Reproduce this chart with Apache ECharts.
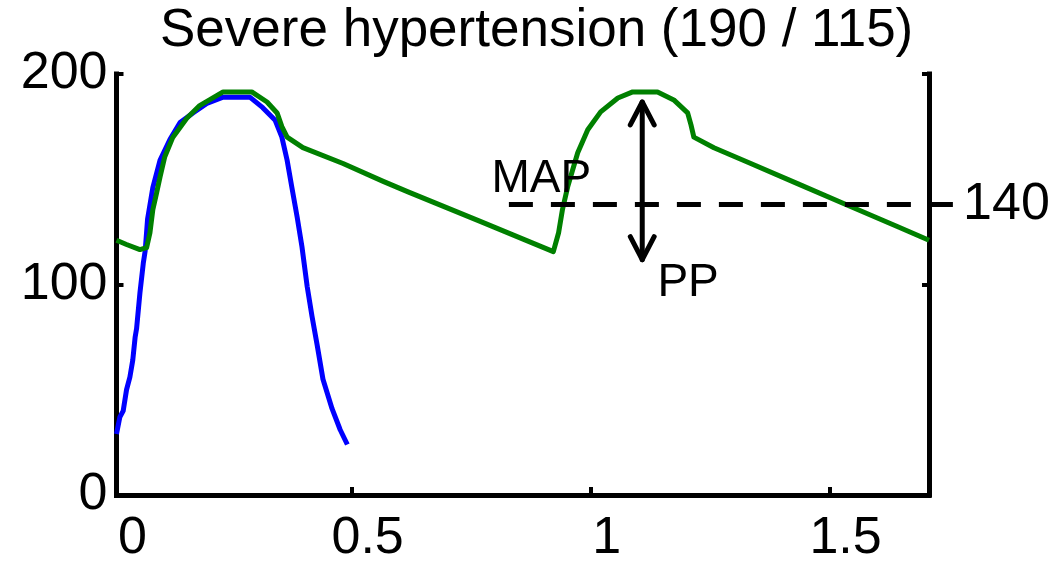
<!DOCTYPE html>
<html>
<head>
<meta charset="utf-8">
<script src="https://cdn.jsdelivr.net/npm/echarts@6/dist/echarts.min.js"></script>
<style>
html,body{margin:0;padding:0;background:#fff;}
#chart{width:1056px;height:565px;}
</style>
</head>
<body>
<div id="chart"></div>
<script>
// ---- data ----
const titleText = 'Severe hypertension (190 / 115)';
const xTickValues = [0.008, 0.5, 1, 1.5];
const xTickLabels = ['0', '0.5', '1', '1.5'];
const yTickValues = [0, 100, 200];

// ventricular pressure (blue)
const blueX = [0.008, 0.015, 0.022, 0.029, 0.036, 0.042, 0.047, 0.050, 0.057, 0.064, 0.068, 0.073, 0.084, 0.099, 0.120, 0.141, 0.168, 0.197, 0.231, 0.287, 0.314, 0.340, 0.354, 0.365, 0.375, 0.386, 0.396, 0.407, 0.417, 0.428, 0.440, 0.459, 0.476, 0.491];
const blueY = [29, 37, 40, 50, 56, 64, 75, 79, 96, 110, 116, 131, 146, 159, 169, 177, 181.5, 186, 189, 189, 184, 178, 170, 159, 146, 132, 118, 99, 85, 71, 55, 41, 31, 24];

// arterial pressure (green)
const greenX = [0.008, 0.029, 0.057, 0.071, 0.078, 0.084, 0.092, 0.099, 0.109, 0.126, 0.155, 0.182, 0.231, 0.291, 0.323, 0.344, 0.354, 0.365, 0.398, 0.482, 0.566, 0.618, 0.769, 0.922, 0.933, 0.941, 0.952, 0.973, 0.994, 1.021, 1.057, 1.088, 1.140, 1.174, 1.203, 1.210, 1.216, 1.258, 1.329, 1.434, 1.539, 1.644, 1.708];
const greenY = [121, 119, 116.6, 117.5, 124.6, 135.5, 143.6, 151, 160.7, 170, 179, 185, 191.5, 191.5, 186.7, 181.5, 175, 170, 165, 157.5, 149, 144, 130, 115.6, 124.6, 135.5, 146.4, 162.6, 173.5, 182, 188.6, 191.5, 191.5, 187.7, 181.5, 175.8, 170, 165, 158.1, 147.8, 137.5, 127.3, 121];

// MAP dashed level: [xStart, xEnd, y]
const mapLine = [[0.829, 1.758, 138]];

// PP arrow
const arrowX = 1.108;
const arrowTopY = 186.7;
const arrowBottomY = 111.8;
const arrowHeadHalfW = 0.025;
const arrowHeadLen = 10.9;

// text annotations
const annoX = [0.897, 1.204, 1.870];
const annoY = [149.8, 100.7, 138];
const annoText = ['MAP', 'PP', '140'];
const annoSize = [46, 46, 52];

// ---- build ----
const zip = (xs, ys) => xs.map((x, i) => [x, ys[i]]);
const FONT = 'Liberation Sans';
const chart = echarts.init(document.getElementById('chart'), null, {renderer: 'canvas'});

const axisLineStyle = {color: '#000', width: 5, cap: 'square'};

chart.setOption({
  animation: false,
  backgroundColor: '#fff',
  title: {
    text: titleText,
    left: 160,
    top: 5,
    padding: 0,
    textStyle: {fontFamily: FONT, fontSize: 53, fontWeight: 'normal', color: '#000'}
  },
  grid: {left: 116.5, right: 127, top: 74, bottom: 69},
  xAxis: {
    type: 'value',
    min: 0.008,
    max: 1.708,
    splitLine: {show: false},
    axisLine: {show: true, onZero: false, lineStyle: axisLineStyle},
    axisTick: {show: true, inside: true, length: 8, lineStyle: {width: 4, color: '#000'}, customValues: [0.5, 1, 1.5]},
    axisLabel: {
      show: true,
      customValues: xTickValues,
      formatter: v => xTickLabels[xTickValues.indexOf(v)],
      margin: 18,
      padding: [0, 0, 0, 32],
      color: '#000', fontFamily: FONT, fontSize: 52
    }
  },
  yAxis: [{
    type: 'value',
    min: 0, max: 200, interval: 100,
    position: 'left',
    splitLine: {show: false},
    axisLine: {show: true, onZero: false, lineStyle: axisLineStyle},
    axisTick: {show: true, inside: true, length: 7, lineStyle: {width: 4, color: '#000'}, customValues: yTickValues},
    axisLabel: {show: true, customValues: yTickValues, margin: 9, padding: [6, 0, 0, 0], color: '#000', fontFamily: FONT, fontSize: 52}
  }, {
    type: 'value',
    min: 0, max: 200, interval: 100,
    position: 'right',
    splitLine: {show: false},
    axisLine: {show: true, onZero: false, lineStyle: axisLineStyle},
    axisTick: {show: true, inside: true, length: 7, lineStyle: {width: 4, color: '#000'}, customValues: yTickValues},
    axisLabel: {show: false}
  }],
  series: [{
    name: 'ventricle',
    type: 'line',
    data: zip(blueX, blueY),
    showSymbol: false, symbol: 'none',
    lineStyle: {color: '#0000ff', width: 5, join: 'round'},
    z: 3
  }, {
    name: 'aorta',
    type: 'line',
    data: zip(greenX, greenY),
    showSymbol: false, symbol: 'none',
    lineStyle: {color: '#008000', width: 5, join: 'round'},
    z: 4
  }, {
    name: 'MAP',
    type: 'custom',
    clip: false,
    data: mapLine,
    encode: {x: [0, 1], y: 2},
    renderItem: (params, api) => {
      const p0 = api.coord([api.value(0), api.value(2)]);
      const p1 = api.coord([api.value(1), api.value(2)]);
      return {
        type: 'line',
        shape: {x1: p0[0], y1: p0[1], x2: p1[0], y2: p1[1]},
        style: {stroke: '#000', lineWidth: 5, lineDash: [24, 18], fill: null}
      };
    },
    z: 5
  }, {
    name: 'arrowShaft',
    type: 'line',
    data: [[arrowX, arrowTopY], [arrowX, arrowBottomY]],
    showSymbol: false, symbol: 'none',
    lineStyle: {color: '#000', width: 5, cap: 'round'},
    z: 6
  }, {
    name: 'arrowTop',
    type: 'line',
    data: [[arrowX - arrowHeadHalfW, arrowTopY - arrowHeadLen], [arrowX, arrowTopY], [arrowX + arrowHeadHalfW, arrowTopY - arrowHeadLen]],
    showSymbol: false, symbol: 'none',
    lineStyle: {color: '#000', width: 5, cap: 'round', join: 'round'},
    z: 6
  }, {
    name: 'arrowBottom',
    type: 'line',
    data: [[arrowX - arrowHeadHalfW, arrowBottomY + arrowHeadLen], [arrowX, arrowBottomY], [arrowX + arrowHeadHalfW, arrowBottomY + arrowHeadLen]],
    showSymbol: false, symbol: 'none',
    lineStyle: {color: '#000', width: 5, cap: 'round', join: 'round'},
    z: 6
  }, {
    name: 'annotations',
    type: 'scatter',
    clip: false,
    data: annoX.map((x, i) => ({
      value: [x, annoY[i]],
      label: {formatter: annoText[i], fontSize: annoSize[i]}
    })),
    symbolSize: 1,
    itemStyle: {color: 'rgba(0,0,0,0)', opacity: 1},
    label: {show: true, position: 'inside', color: '#000', opacity: 1, fontFamily: FONT},
    emphasis: {disabled: true},
    z: 7
  }]
});
</script>
</body>
</html>
